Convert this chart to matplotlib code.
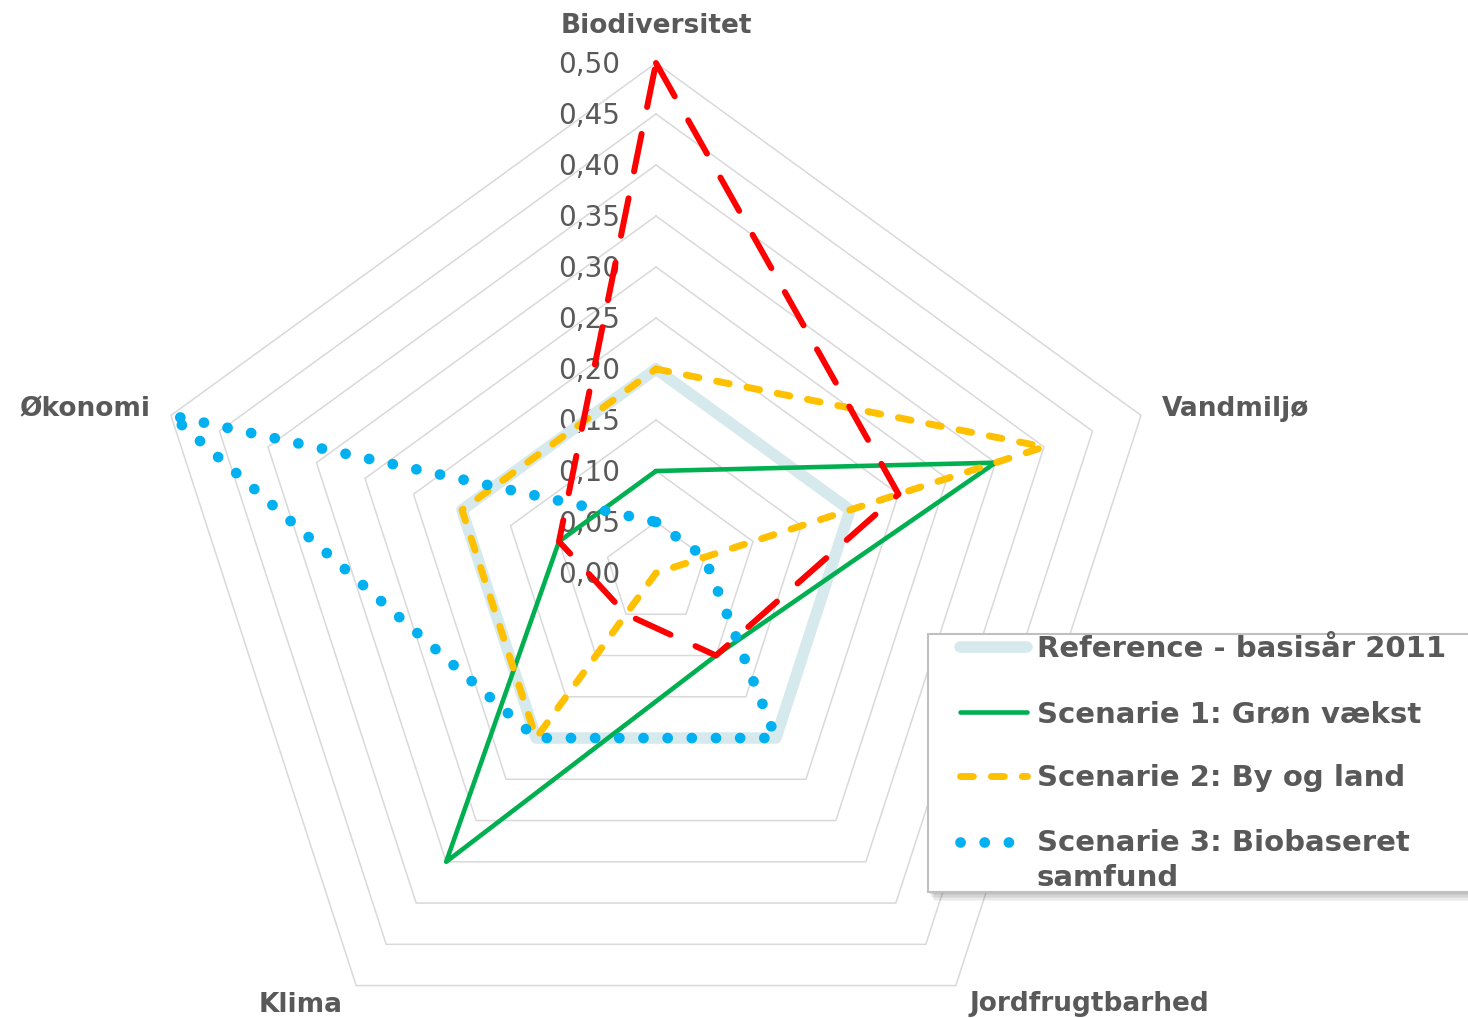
import numpy as np
import matplotlib.pyplot as plt
from matplotlib.patches import Rectangle

categories = ['Biodiversitet', 'Vandmiljø', 'Jordfrugtbarhed', 'Klima', 'Økonomi']
tick_values = [0.00, 0.05, 0.10, 0.15, 0.20, 0.25, 0.30, 0.35, 0.40, 0.45, 0.50]

reference = [0.20, 0.20, 0.20, 0.20, 0.20]
scenarie1 = [0.10, 0.35, 0.10, 0.35, 0.10]
scenarie2 = [0.20, 0.40, 0.00, 0.20, 0.20]
scenarie3 = [0.05, 0.05, 0.20, 0.20, 0.50]
scenarie4 = [0.50, 0.25, 0.10, 0.05, 0.10]

labels = ['Reference - basisår 2011', 'Scenarie 1: Grøn vækst',
          'Scenarie 2: By og land', 'Scenarie 3: Biobaseret\nsamfund']

GREY = '#595959'
W, H = 1468, 1018
CX, CY, S = 656, 573, 1020  # centre in pixels, pixels per unit

# spokes go clockwise from the top
theta = np.pi / 2 - 2 * np.pi * np.arange(len(categories)) / len(categories)


def polygon(values):
    r = np.append(values, values[0])
    t = np.append(theta, theta[0])
    return r * np.cos(t), r * np.sin(t)


fig = plt.figure(figsize=(W / 100, H / 100), dpi=100)
ax = fig.add_axes([0, 0, 1, 1])
ax.axis('off')

# pentagon grid
for v in tick_values[1:]:
    ax.plot(*polygon([v] * 5), color='#d9d9d9', lw=1.1, zorder=1)

for v in tick_values:
    ax.text(-36 / S, v - 0.0099, f'{v:.2f}'.replace('.', ','), ha='right', va='baseline',
            fontsize=20, color=GREY, zorder=1.5)

l_ref, = ax.plot(*polygon(reference), color='#d6eaee', lw=8.3,
                 solid_joinstyle='round', solid_capstyle='round', zorder=2)
l_s1, = ax.plot(*polygon(scenarie1), color='#00b050', lw=3.3,
                solid_joinstyle='round', solid_capstyle='round', zorder=2.1)
l_s2, = ax.plot(*polygon(scenarie2), color='#ffc000', lw=5, ls=(0, (1.85, 2.6)),
                dash_capstyle='round', dash_joinstyle='round', zorder=2.2)
l_s3, = ax.plot(*polygon(scenarie3), color='#00b0f0', lw=7.7, ls=(0, (0.01, 2.25)),
                dash_capstyle='round', zorder=2.3)
l_s4, = ax.plot(*polygon(scenarie4), color='#ff0000', lw=4.3, ls=(0, (6.4, 4.6)),
                dash_capstyle='round', dash_joinstyle='round', zorder=2.4)

# category labels (x, baseline y, alignment)
label_pos = [(0.0, 0.5294, 'center'), (0.496, 0.1539, 'left'), (0.4245, -0.4294, 'center'),
             (-0.348, -0.4304, 'center'), (-0.496, 0.1539, 'right')]
for name, (x, y, ha) in zip(categories, label_pos):
    ax.text(x, y, name, ha=ha, va='baseline', fontsize=19, fontweight='bold', color=GREY)

# legend frame with a soft shadow
fx, fy, fh = 928 / W, 1 - 892 / H, (892 - 634) / H
for i in range(1, 7):
    ax.add_patch(Rectangle((fx + i / W, fy - i * 1.5 / H), 0.5, fh, transform=fig.transFigure,
                           fc='black', ec='none', alpha=0.045, zorder=3.9, clip_on=False))
ax.add_patch(Rectangle((fx, fy), 0.5, fh, transform=fig.transFigure,
                       fc='white', ec='#c0c0c0', lw=1.5, zorder=4, clip_on=False))

leg = ax.legend([l_ref, l_s1, l_s2, l_s3], labels, loc='upper left',
                bbox_to_anchor=(960 / W, 1 - 635 / H), bbox_transform=fig.transFigure,
                frameon=False, borderpad=0, borderaxespad=0, handlelength=2.3,
                handletextpad=0.33, labelspacing=1.26, labelcolor=GREY,
                prop={'weight': 'bold', 'size': 21})
leg.set_zorder(5)
leg.get_texts()[3].set_linespacing(1.3)
# keep the dotted sample level with the first line of its two-line label
last = leg.legend_handles[3]
last.set_ydata(np.asarray(last.get_ydata()) + 13.6)

ax.set_xlim(-CX / S, (W - CX) / S)
ax.set_ylim(-(H - CY) / S, CY / S)

fig.savefig('out.png', dpi=100)
